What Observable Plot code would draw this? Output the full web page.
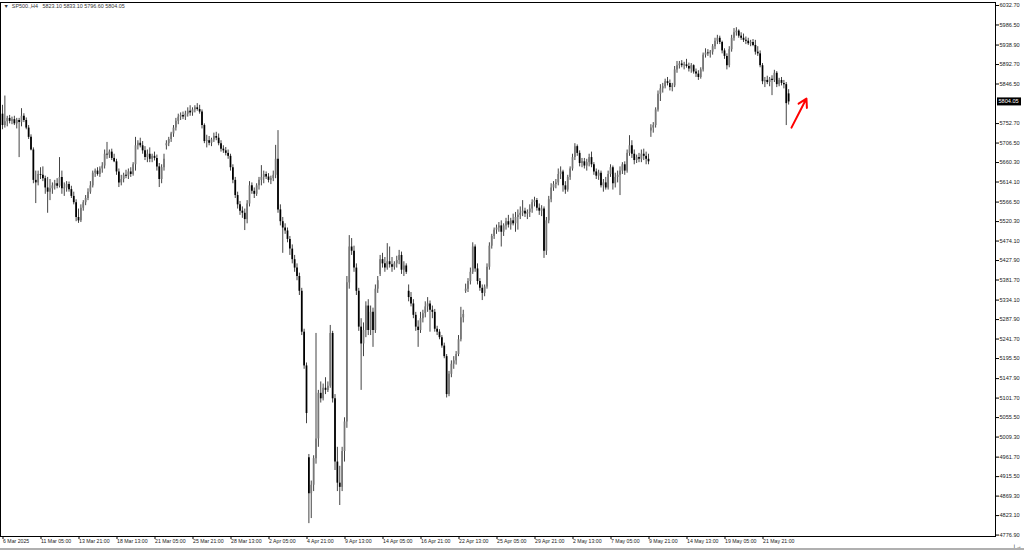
<!DOCTYPE html>
<html>
<head>
<meta charset="utf-8">
<script src="https://cdn.jsdelivr.net/npm/d3@7"></script>
<script src="https://cdn.jsdelivr.net/npm/@observablehq/plot@0.6"></script>
<style>
  html, body { margin: 0; padding: 0; background: #fff; }
  #chart { width: 1024px; height: 550px; overflow: hidden; }
</style>
</head>
<body>
<div id="chart"></div>
<script>
// SP500., H4 candles: 6 Mar 2025 13:00 .. 23 May 2025 17:00 (bar index 0..331)
const openP = [
5775,5748,5757,5765,5758,5762,5752,5760,5755,5770,5760,5742,5720,5690,5618,5612,5632,5630,5622,5600,
5590,5598,5605,5610,5604,5625,5598,5600,5608,5596,5580,5565,5530,5522,5552,5565,5575,5590,5605,5635,
5640,5632,5645,5652,5680,5678,5685,5670,5662,5638,5612,5620,5630,5628,5638,5632,5655,5700,5706,5700,
5688,5672,5680,5668,5675,5670,5650,5620,5648,5700,5705,5715,5728,5742,5758,5768,5772,5768,5775,5782,
5778,5785,5790,5786,5780,5748,5710,5712,5706,5714,5722,5718,5705,5692,5688,5682,5675,5648,5618,5582,
5560,5545,5540,5525,5562,5605,5592,5585,5605,5618,5625,5632,5626,5618,5622,5630,5668,5548,5520,5505,
5498,5478,5455,5430,5410,5390,5355,5258,5178,4960,4875,4895,4958,5005,5113,5100,5125,5120,5130,5255,
5100,4950,4900,4890,4975,5045,5375,5460,5450,5410,5355,5270,5230,5262,5320,5262,5305,5262,5360,5395,
5430,5420,5410,5425,5418,5412,5420,5428,5440,5405,5415,5355,5340,5325,5298,5270,5262,5290,5302,5318,
5325,5310,5305,5265,5258,5245,5225,5200,5110,5158,5182,5190,5205,5240,5292,5355,5360,5378,5400,5460,
5408,5378,5362,5350,5365,5412,5462,5485,5500,5505,5510,5495,5510,5520,5512,5522,5515,5530,5535,5540,
5545,5538,5542,5550,5565,5570,5552,5545,5550,5450,5522,5572,5600,5608,5612,5632,5638,5605,5595,5625,
5645,5672,5698,5682,5658,5662,5652,5660,5672,5655,5638,5628,5635,5605,5612,5600,5632,5648,5610,5625,
5630,5640,5655,5640,5682,5700,5680,5665,5672,5668,5680,5675,5668,5735,5742,5748,5785,5822,5835,5840,
5852,5848,5838,5842,5880,5890,5894,5890,5892,5888,5882,5890,5875,5870,5862,5880,5915,5920,5918,5922,
5935,5948,5955,5945,5925,5912,5890,5928,5955,5968,5972,5960,5955,5950,5948,5942,5945,5938,5922,5918,
5890,5852,5855,5850,5858,5855,5872,5845,5855,5848,5845,5823.10
];
const highP = [
5796,5818,5770,5772,5768,5770,5765,5765,5788,5776,5766,5748,5726,5695,5640,5640,5648,5650,5628,5625,
5620,5612,5618,5622,5672,5640,5612,5615,5614,5604,5590,5572,5550,5560,5570,5582,5598,5615,5640,5645,
5648,5650,5660,5690,5708,5690,5692,5680,5668,5645,5630,5635,5642,5645,5648,5660,5720,5712,5718,5710,
5698,5690,5695,5680,5685,5678,5658,5655,5680,5712,5720,5732,5748,5765,5775,5778,5780,5782,5790,5795,
5790,5795,5800,5796,5785,5752,5725,5722,5718,5730,5732,5728,5712,5700,5696,5690,5680,5655,5625,5590,
5568,5555,5550,5570,5615,5612,5600,5610,5625,5653,5640,5638,5634,5628,5640,5701,5736,5560,5530,5515,
5505,5485,5465,5440,5420,5398,5362,5265,5185,4968,4905,4965,5255,5120,5140,5135,5150,5140,5274,5260,
5110,4985,4940,4985,5055,5390,5487,5480,5462,5420,5362,5290,5280,5330,5335,5320,5315,5370,5390,5440,
5445,5435,5468,5460,5435,5425,5438,5452,5448,5425,5420,5370,5352,5335,5305,5285,5305,5310,5330,5340,
5332,5320,5312,5272,5264,5250,5232,5205,5165,5190,5200,5212,5250,5317,5310,5372,5385,5410,5470,5465,
5420,5385,5370,5370,5420,5470,5490,5505,5512,5518,5522,5515,5528,5535,5528,5538,5542,5548,5555,5570,
5552,5548,5560,5572,5578,5575,5562,5558,5555,5530,5580,5610,5615,5620,5645,5650,5642,5615,5630,5650,
5680,5705,5702,5688,5670,5670,5668,5680,5685,5660,5645,5642,5640,5620,5625,5640,5655,5652,5635,5640,
5650,5660,5662,5690,5724,5712,5690,5678,5682,5690,5692,5685,5680,5750,5755,5790,5830,5845,5848,5858,
5862,5856,5848,5888,5900,5900,5902,5898,5905,5896,5895,5892,5882,5878,5885,5920,5930,5928,5926,5940,
5955,5962,5960,5948,5930,5918,5935,5962,5978,5980,5975,5968,5965,5958,5955,5950,5952,5950,5935,5925,
5895,5862,5865,5862,5866,5879,5876,5860,5862,5855,5850,5833.10
];
const lowP = [
5738,5742,5745,5752,5750,5748,5740,5672,5745,5755,5738,5715,5688,5610,5563,5605,5620,5615,5585,5540,
5570,5585,5595,5598,5600,5585,5580,5590,5590,5575,5560,5520,5516,5518,5545,5558,5570,5585,5600,5625,
5628,5625,5635,5645,5668,5670,5665,5660,5630,5601,5605,5612,5622,5620,5625,5628,5640,5690,5695,5680,
5665,5660,5660,5660,5664,5640,5601,5610,5640,5690,5698,5708,5720,5735,5750,5760,5762,5760,5768,5770,
5770,5778,5782,5775,5740,5705,5695,5700,5698,5708,5712,5700,5685,5682,5676,5668,5640,5610,5575,5550,
5535,5528,5499,5515,5555,5585,5575,5580,5595,5605,5610,5620,5612,5608,5615,5622,5540,5510,5445,5490,
5470,5440,5420,5400,5380,5345,5250,5170,5041,4804,4816,4880,4945,4985,5090,5095,5110,5115,5125,5090,
4930,4880,4847,4880,4950,5030,5360,5440,5400,5345,5260,5120,5200,5245,5250,5250,5222,5255,5350,5390,
5410,5400,5405,5410,5400,5405,5410,5418,5395,5390,5395,5330,5318,5290,5260,5222,5255,5280,5292,5305,
5258,5290,5258,5250,5240,5220,5195,5102,5105,5150,5170,5180,5200,5235,5280,5350,5352,5370,5395,5400,
5370,5355,5333,5342,5360,5405,5455,5478,5490,5495,5460,5485,5500,5505,5500,5510,5495,5500,5525,5532,
5530,5525,5530,5540,5555,5545,5535,5532,5433,5440,5515,5565,5592,5598,5605,5620,5590,5585,5590,5618,
5640,5665,5675,5650,5648,5645,5640,5650,5648,5630,5620,5618,5600,5590,5595,5595,5625,5595,5600,5612,
5582,5632,5630,5635,5675,5670,5655,5658,5660,5660,5665,5655,5655,5720,5730,5742,5780,5805,5825,5835,
5842,5830,5828,5838,5872,5882,5885,5880,5884,5875,5872,5870,5862,5855,5858,5875,5908,5912,5908,5915,
5928,5940,5940,5918,5905,5880,5885,5922,5948,5960,5955,5950,5945,5940,5938,5935,5935,5915,5912,5885,
5845,5838,5845,5840,5819,5850,5838,5840,5842,5835,5748,5796.60
];
const closeP = [
5748,5757,5765,5758,5762,5752,5760,5755,5770,5760,5742,5720,5690,5618,5612,5632,5630,5622,5600,5590,
5598,5605,5610,5604,5625,5598,5600,5608,5596,5580,5565,5530,5522,5552,5565,5575,5590,5605,5635,5640,
5632,5645,5652,5680,5678,5685,5670,5662,5638,5612,5620,5630,5628,5638,5632,5655,5700,5706,5700,5688,
5672,5680,5668,5675,5670,5650,5620,5648,5668,5705,5715,5728,5742,5758,5768,5772,5768,5775,5782,5778,
5785,5790,5786,5780,5748,5710,5712,5706,5714,5722,5718,5705,5692,5688,5682,5675,5648,5618,5582,5560,
5545,5540,5525,5562,5605,5592,5585,5605,5618,5625,5632,5626,5618,5622,5630,5668,5548,5520,5505,5498,
5478,5455,5430,5410,5390,5355,5258,5178,5065,4875,4895,4958,5005,5113,5100,5125,5120,5130,5255,5100,
4950,4900,4890,4975,5045,5375,5460,5450,5410,5355,5270,5230,5262,5320,5262,5305,5262,5360,5380,5430,
5420,5410,5425,5418,5412,5420,5428,5440,5405,5415,5400,5340,5325,5298,5270,5262,5290,5302,5318,5325,
5310,5305,5265,5258,5245,5225,5200,5110,5158,5182,5190,5205,5240,5292,5300,5360,5378,5400,5460,5408,
5378,5362,5350,5365,5412,5462,5485,5500,5505,5510,5495,5510,5520,5512,5522,5515,5530,5535,5540,5545,
5538,5542,5550,5565,5570,5552,5545,5550,5450,5522,5572,5600,5608,5612,5632,5638,5605,5595,5625,5645,
5672,5698,5682,5658,5662,5652,5660,5672,5655,5638,5628,5635,5605,5612,5600,5632,5648,5610,5625,5630,
5640,5655,5640,5682,5700,5680,5665,5672,5668,5680,5675,5668,5662,5742,5748,5785,5822,5835,5840,5852,
5848,5838,5842,5880,5890,5894,5890,5892,5888,5882,5890,5875,5870,5862,5880,5915,5920,5918,5922,5935,
5948,5955,5945,5925,5912,5890,5928,5955,5968,5972,5960,5955,5950,5948,5942,5945,5938,5922,5918,5890,
5852,5855,5850,5858,5855,5872,5845,5855,5848,5845,5800,5804.05
];

const yTicks = [6032.70,5986.50,5938.90,5892.70,5846.50,5752.70,5706.50,5660.30,5614.10,5566.50,
  5520.30,5474.10,5427.90,5381.70,5334.10,5287.90,5241.70,5195.50,5147.90,5101.70,5055.50,5009.30,
  4961.70,4915.50,4869.30,4823.10,4776.90];
const xTickBars = [0,16,32,48,64,80,96,112,128,144,160,176,192,208,224,240,256,272,288,304,320];
const xTickLabels = ["6 Mar 2025","11 Mar 05:00","13 Mar 21:00","18 Mar 13:00","21 Mar 05:00",
  "25 Mar 21:00","28 Mar 13:00","2 Apr 05:00","4 Apr 21:00","9 Apr 13:00","14 Apr 05:00",
  "16 Apr 21:00","22 Apr 13:00","25 Apr 05:00","29 Apr 21:00","2 May 13:00","7 May 05:00",
  "9 May 21:00","14 May 13:00","19 May 05:00","21 May 21:00"];
const symbolTitle = "SP500.,H4";
const lastOHLC = [5823.10, 5833.10, 5796.60, 5804.05];
// red annotation arrow (bar index, price)
const arrowFrom = [332.2, 5743];
const arrowTo = [338.5, 5812];

const candles = openP.map((o, i) => ({i, o, h: highP[i], l: lowP[i], c: closeP[i]}));
const fmt2 = d => d.toFixed(2);

const W = 1024, H = 550, mR = 29, mT = 2, mB = 14;
const plot = Plot.plot({
  width: W, height: H,
  marginTop: mT, marginBottom: mB, marginLeft: 0, marginRight: mR,
  x: {type: "linear", domain: [-0.842, 418.1], axis: null},
  y: {type: "linear", domain: [4773.5, 6039.8], axis: null},
  style: {background: "#fff", fontFamily: "'Liberation Sans', Arial, sans-serif", color: "#000"},
  marks: [
    Plot.ruleX(candles, {x: "i", y1: "l", y2: "h", stroke: "#444", strokeWidth: 1}),
    Plot.ruleX(candles, {x: "i", y1: "o", y2: "c",
      stroke: d => d.c >= d.o ? "#777" : "#000", strokeWidth: 1.75}),
    Plot.frame({stroke: "#000", strokeWidth: 1}),
    Plot.axisY(yTicks, {anchor: "right", tickSize: 3, tickPadding: 1, tickFormat: fmt2,
      fontSize: 5.6, textAnchor: "start", fill: "#222", stroke: "#000"}),
    Plot.axisX(xTickBars, {anchor: "bottom", tickSize: 3, tickPadding: 0, dx: 0.5,
      tickFormat: d => xTickLabels[xTickBars.indexOf(d)], fontSize: 5.2, textAnchor: "start",
      fill: "#222", stroke: "#000"}),
    Plot.arrow([{a: arrowFrom, b: arrowTo}], {x1: d => d.a[0], y1: d => d.a[1],
      x2: d => d.b[0], y2: d => d.b[1], stroke: "#f00", strokeWidth: 2, headLength: 7}),
    Plot.text([`\u25BC  ${symbolTitle}   ${lastOHLC.map(fmt2).join(" ")}`], {
      frameAnchor: "top-left", dx: 3, dy: 2, fontSize: 5.4, fill: "#333", text: d => d, textAnchor: "start"})
  ]
});

// current price label on the price axis
const ys = plot.scale("y");
const yLast = ys.apply(lastOHLC[3]);
const svg = d3.select(plot);
const xAxisPos = W - mR;
const g = svg.append("g").attr("text-anchor", "start");
g.append("rect").attr("x", xAxisPos + 2).attr("y", yLast - 4).attr("width", 24).attr("height", 8).attr("fill", "#000");
g.append("text").attr("x", xAxisPos + 3.5).attr("y", yLast).attr("dy", "0.35em")
  .attr("text-anchor", "start")
  .attr("fill", "#fff").attr("font-size", 5.6).attr("font-family", "'Liberation Sans', Arial, sans-serif")
  .text(fmt2(lastOHLC[3]));
// window bottom edge
svg.append("rect").attr("x", 0).attr("y", H - 2).attr("width", W).attr("height", 2).attr("fill", "#b0b0b0");

document.getElementById("chart").appendChild(plot);
</script>
</body>
</html>
